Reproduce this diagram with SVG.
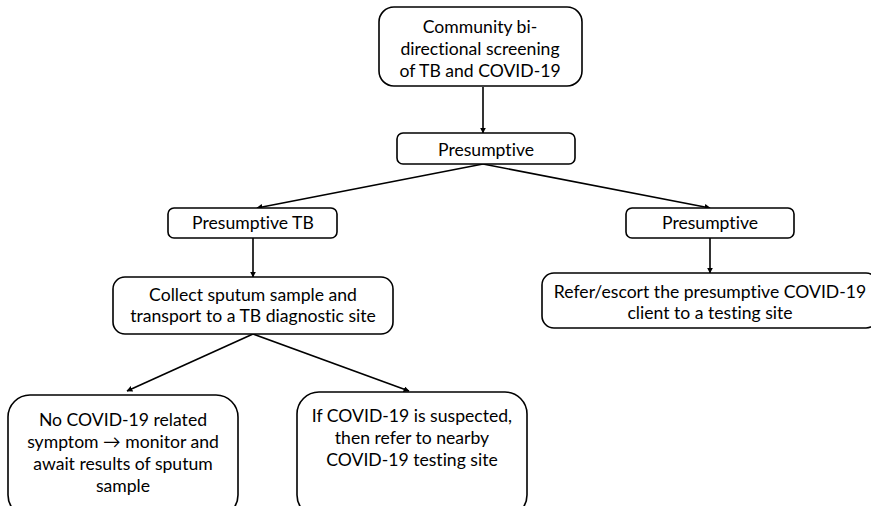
<svg xmlns="http://www.w3.org/2000/svg" width="871" height="506" viewBox="0 0 871 506">
<style>
.box{fill:#fff;stroke:#000;stroke-width:1.6}
.t{font-family:Lato,"Open Sans","Liberation Sans",sans-serif;font-size:17.6px;fill:#000;text-anchor:middle;font-variant-ligatures:none;font-feature-settings:"liga" 0}
.c{stroke:#000;stroke-width:1.6;fill:none;marker-end:url(#ah)}
</style>
<defs>
<marker id="ah" viewBox="0 0 10 10" refX="9" refY="5" markerWidth="6" markerHeight="6" orient="auto" markerUnits="userSpaceOnUse">
<path d="M0,0 L10,5 L0,10 z" fill="#000"/>
</marker>
</defs>
<rect width="871" height="506" fill="#fff"/>
<g id="connectors">
<line class="c" x1="483" y1="87" x2="483" y2="133"/>
<line class="c" x1="483" y1="164" x2="257" y2="208"/>
<line class="c" x1="483" y1="164" x2="710" y2="208"/>
<line class="c" x1="253" y1="238" x2="253" y2="277"/>
<line class="c" x1="710" y1="238" x2="710" y2="273"/>
<line class="c" x1="253" y1="334" x2="127" y2="391"/>
<line class="c" x1="253" y1="334" x2="409" y2="391"/>
</g>
<g id="n1">
<rect class="box" x="379" y="7" width="203" height="79" rx="15"/>
<text class="t" x="480" y="33">Community bi-</text>
<text class="t" x="480" y="55">directional screening</text>
<text class="t" x="480" y="77">of TB and COVID-19</text>
</g>
<g id="n2">
<rect class="box" x="397" y="133" width="178" height="31" rx="6"/>
<text class="t" x="486" y="156">Presumptive</text>
</g>
<g id="n3">
<rect class="box" x="168" y="208" width="169" height="30" rx="6"/>
<text class="t" x="253" y="229">Presumptive TB</text>
</g>
<g id="n4">
<rect class="box" x="626" y="208" width="168" height="30" rx="6"/>
<text class="t" x="710" y="229">Presumptive</text>
</g>
<g id="n5">
<rect class="box" x="113" y="277" width="280" height="57" rx="12"/>
<text class="t" x="253" y="301">Collect sputum sample and</text>
<text class="t" x="253" y="322">transport to a TB diagnostic site</text>
</g>
<g id="n6">
<rect class="box" x="542" y="273" width="336" height="55" rx="12"/>
<text class="t" x="710" y="298">Refer/escort the presumptive COVID-19</text>
<text class="t" x="710" y="319">client to a testing site</text>
</g>
<g id="n7">
<rect class="box" x="8" y="395" width="230" height="122" rx="22"/>
<text class="t" x="123" y="426">No COVID-19 related</text>
<text class="t" x="123" y="448">symptom → monitor and</text>
<text class="t" x="123" y="470">await results of sputum</text>
<text class="t" x="123" y="492">sample</text>
</g>
<g id="n8">
<rect class="box" x="297" y="392" width="230" height="125" rx="22"/>
<text class="t" x="412" y="422">If COVID-19 is suspected,</text>
<text class="t" x="412" y="444">then refer to nearby</text>
<text class="t" x="412" y="466">COVID-19 testing site</text>
</g>
</svg>
